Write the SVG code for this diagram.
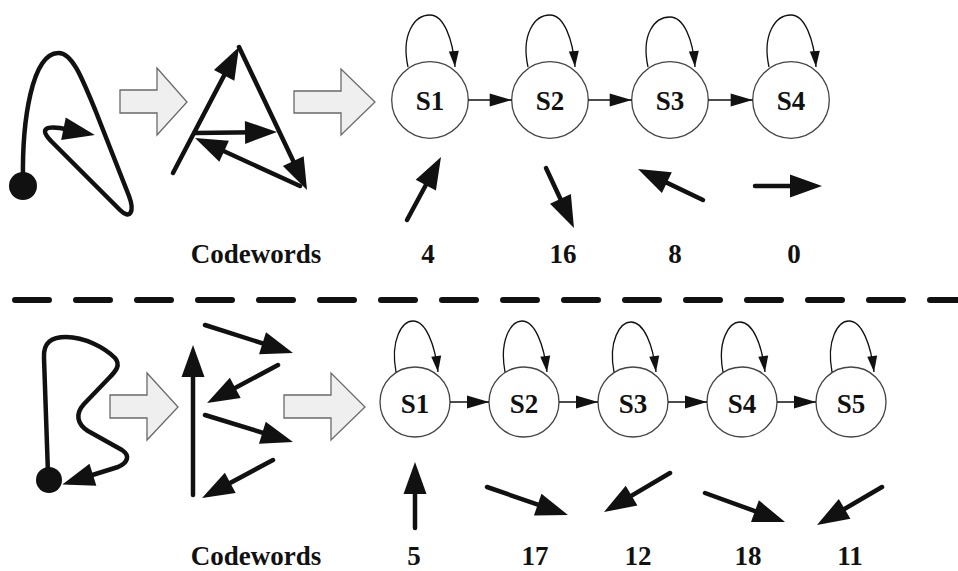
<svg xmlns="http://www.w3.org/2000/svg" width="958" height="571" viewBox="0 0 958 571">
<style>
.thick{fill:none;stroke:#111;stroke-width:4.5;stroke-linecap:round;stroke-linejoin:round;marker-end:url(#big)}
.curve{fill:none;stroke:#111;stroke-width:4.5;stroke-linecap:round;stroke-linejoin:round}
.block{fill:#efefef;stroke:#6a6a6a;stroke-width:1.3;stroke-linejoin:miter}
.state{fill:#fff;stroke:#444;stroke-width:1.3}
.lbl{font-family:"Liberation Serif","Times New Roman",serif;font-weight:bold;font-size:27px;fill:#111;text-anchor:middle}
.edge{fill:none;stroke:#111;stroke-width:1.6;marker-end:url(#mid)}
.loop{fill:none;stroke:#111;stroke-width:1.3;marker-end:url(#small)}
</style>
<defs>
<marker id="big" markerUnits="userSpaceOnUse" markerWidth="32" markerHeight="24" refX="24" refY="11.5" orient="auto" overflow="visible">
<path d="M0,0 L32,11.5 L0,23 z" fill="#111"/>
</marker>
<marker id="mid" markerUnits="userSpaceOnUse" markerWidth="22" markerHeight="13" refX="22" refY="6.5" orient="auto" overflow="visible">
<path d="M0,0 L22,6.5 L0,13 z" fill="#111"/>
</marker>
<marker id="small" markerUnits="userSpaceOnUse" markerWidth="16" markerHeight="10" refX="16" refY="5" orient="auto" overflow="visible">
<path d="M0,0 L16,5 L0,10 z" fill="#111"/>
</marker>
</defs>
<rect width="958" height="571" fill="#fff"/>

<!-- Top: trajectory sketch -->
<g id="top-trajectory">
<circle cx="23" cy="186" r="14" fill="#111"/>
<path class="curve" d="M23,180 C22,120 32,54 58,53 C72,52 82,78 96,112 L129,196 C135,212 130,220 120,210 L52,142 C40,130 44,126 60,128 L87,133.5" marker-end="url(#big)"/>
</g>
<g id="top-block-arrow-1"><polygon class="block" points="120,90 157,90 157,68 187,102 157,135 157,113 120,113"/></g>
<g id="top-vectors">
<line class="thick" x1="173" y1="173" x2="235.3" y2="54.1"/>
<line class="thick" x1="239" y1="47" x2="303.6" y2="182.8"/>
<line class="thick" x1="195" y1="133" x2="269" y2="132.1"/>
<line class="thick" x1="300" y1="186" x2="202.3" y2="141.3"/>
</g>
<g id="top-block-arrow-2"><polygon class="block" points="294,91 341,91 341,69 375,102 341,135 341,113 294,113"/></g>

<!-- Top states -->
<g id="top-S1"><circle class="state" cx="430" cy="100" r="38.3"/><text class="lbl" x="430" y="109.5">S1</text></g>
<g id="top-S2"><circle class="state" cx="550" cy="100" r="38.3"/><text class="lbl" x="550" y="109.5">S2</text></g>
<g id="top-S3"><circle class="state" cx="670" cy="100" r="38.3"/><text class="lbl" x="670" y="109.5">S3</text></g>
<g id="top-S4"><circle class="state" cx="791" cy="100" r="38.3"/><text class="lbl" x="791" y="109.5">S4</text></g>
<g id="top-connectors">
<path class="loop" d="M408,67 C401,35 414,15 430,15 C444,15 453,40 455,67"/>
<path class="loop" d="M528,67 C521,35 534,15 550,15 C564,15 573,40 575,67"/>
<path class="loop" d="M648,67 C641,35 654,17 670,17 C684,17 693,40 695,67"/>
<path class="loop" d="M769,67 C762,35 775,15 791,15 C805,15 814,40 816,67"/>
<line class="edge" x1="468.3" y1="100" x2="511.7" y2="100"/>
<line class="edge" x1="588.3" y1="100" x2="631.7" y2="100"/>
<line class="edge" x1="708.3" y1="100" x2="752.7" y2="100"/>
</g>
<g id="top-codeword-arrows">
<line class="thick" x1="407" y1="220" x2="437.2" y2="164"/>
<line class="thick" x1="546" y1="168" x2="570.6" y2="220.7"/>
<line class="thick" x1="703" y1="200" x2="645.2" y2="172.4"/>
<line class="thick" x1="755" y1="186" x2="814" y2="186"/>
</g>
<g id="top-codewords">
<text class="lbl" x="256" y="263">Codewords</text>
<text class="lbl" x="428" y="263">4</text>
<text class="lbl" x="563" y="263">16</text>
<text class="lbl" x="675" y="263">8</text>
<text class="lbl" x="794" y="263">0</text>
</g>

<!-- Separator -->
<g id="separator"><line x1="15" y1="300" x2="958" y2="300" stroke="#111" stroke-width="6" stroke-linecap="round" stroke-dasharray="34 27"/></g>

<!-- Bottom: trajectory sketch -->
<g id="bottom-trajectory">
<circle cx="49" cy="480" r="13" fill="#111"/>
<path class="curve" d="M48,474 L44,358 C43,342 52,337 66,337 C85,337 105,348 115,358 C121,365 116,371 109,378 L84,404 C75,414 77,424 88,431 L122,450 C131,456 127,463 118,467 L70,482" marker-end="url(#big)"/>
</g>
<g id="bottom-block-arrow-1"><polygon class="block" points="110,395 147,395 147,373 178,407 147,440 147,418 110,418"/></g>
<g id="bottom-vectors">
<line class="thick" x1="193" y1="495" x2="193" y2="353"/>
<line class="thick" x1="205" y1="325" x2="285.4" y2="350.6"/>
<line class="thick" x1="278" y1="365" x2="214.1" y2="399.2"/>
<line class="thick" x1="205" y1="415" x2="285.3" y2="439.7"/>
<line class="thick" x1="273" y1="460" x2="209.1" y2="494.2"/>
</g>
<g id="bottom-block-arrow-2"><polygon class="block" points="284,395 331,395 331,373 365,407 331,440 331,418 284,418"/></g>

<!-- Bottom states -->
<g id="bot-S1"><circle class="state" cx="415" cy="402" r="35"/><text class="lbl" x="415" y="413">S1</text></g>
<g id="bot-S2"><circle class="state" cx="524" cy="402" r="35"/><text class="lbl" x="524" y="413">S2</text></g>
<g id="bot-S3"><circle class="state" cx="633" cy="402" r="35"/><text class="lbl" x="633" y="413">S3</text></g>
<g id="bot-S4"><circle class="state" cx="742" cy="402" r="35"/><text class="lbl" x="742" y="413">S4</text></g>
<g id="bot-S5"><circle class="state" cx="851" cy="402" r="35"/><text class="lbl" x="851" y="413">S5</text></g>
<g id="bottom-connectors">
<path class="loop" d="M396,372 C390,340 402,321 413,321 C426,321 435,345 438,372"/>
<path class="loop" d="M505,372 C499,340 511,321 522,321 C535,321 544,345 547,372"/>
<path class="loop" d="M614,372 C608,341 620,322 631,322 C644,322 653,345 656,372"/>
<path class="loop" d="M723,372 C717,341 729,322 740,322 C753,322 762,345 765,372"/>
<path class="loop" d="M832,372 C826,340 838,321 849,321 C862,321 871,345 874,372"/>
<line class="edge" x1="450" y1="402" x2="489" y2="402"/>
<line class="edge" x1="559" y1="402" x2="598" y2="402"/>
<line class="edge" x1="668" y1="402" x2="707" y2="402"/>
<line class="edge" x1="777" y1="402" x2="816" y2="402"/>
</g>
<g id="bottom-codeword-arrows">
<line class="thick" x1="415" y1="528" x2="415" y2="470"/>
<line class="thick" x1="487" y1="487" x2="560.4" y2="512.4"/>
<line class="thick" x1="670" y1="473" x2="610.9" y2="507.9"/>
<line class="thick" x1="705" y1="493" x2="777.5" y2="519.3"/>
<line class="thick" x1="882" y1="487" x2="823.9" y2="521"/>
</g>
<g id="bottom-codewords">
<text class="lbl" x="256" y="565">Codewords</text>
<text class="lbl" x="414" y="565">5</text>
<text class="lbl" x="535" y="565">17</text>
<text class="lbl" x="638" y="565">12</text>
<text class="lbl" x="748" y="565">18</text>
<text class="lbl" x="850" y="565">11</text>
</g>
</svg>
